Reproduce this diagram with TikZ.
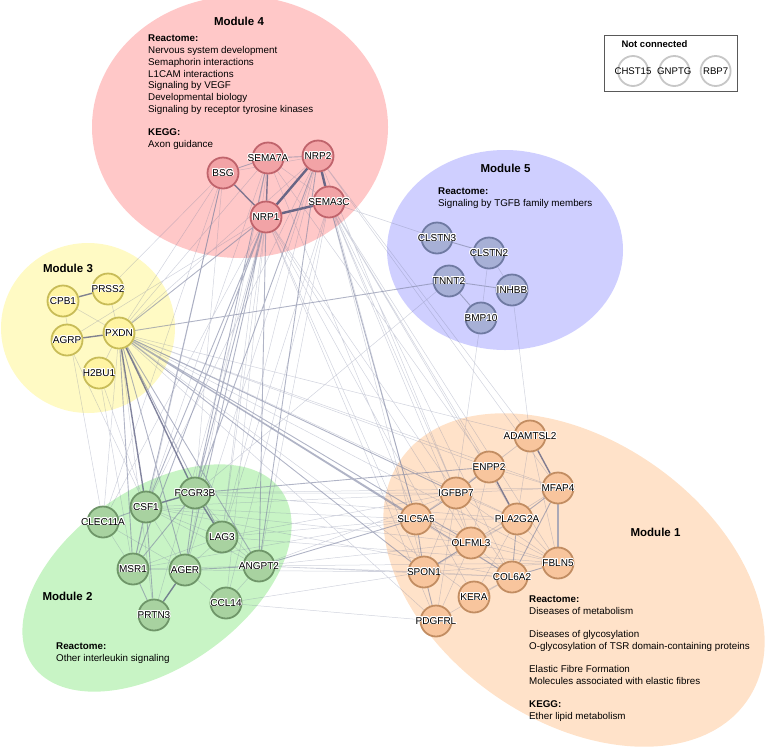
\documentclass[tikz,border=0pt]{standalone}
\usepackage{fontspec}
\setmainfont{Liberation Sans}
\usepackage{contour}
\contourlength{0.8pt}
\usetikzlibrary{positioning}

\definecolor{edgec}{HTML}{7C82A0}
\definecolor{edgedk}{HTML}{585B7E}
\definecolor{m1bg}{HTML}{FFE2C9}\definecolor{m1n}{HTML}{F8C59D}\definecolor{m1d}{HTML}{C28D62}
\definecolor{m2bg}{HTML}{C8F4C5}\definecolor{m2n}{HTML}{A8D2A0}\definecolor{m2d}{HTML}{6F9669}
\definecolor{m3bg}{HTML}{FFFAC4}\definecolor{m3n}{HTML}{FFF4A3}\definecolor{m3d}{HTML}{C8BC58}
\definecolor{m4bg}{HTML}{FFC8C8}\definecolor{m4n}{HTML}{F2A3A6}\definecolor{m4d}{HTML}{C0646C}
\definecolor{m5bg}{HTML}{CFCFFF}\definecolor{m5n}{HTML}{A7B0D6}\definecolor{m5d}{HTML}{6F7AA2}

\pgfdeclarelayer{modules}
\pgfdeclarelayer{edges}
\pgfsetlayers{modules,edges,main}

\newcommand{\halo}[1]{\contour{white}{#1}}

\begin{document}
\begin{tikzpicture}[x=1pt,y=-1pt,
      gene/.style={circle,minimum size=31pt,inner sep=0pt,line width=1.8pt},
      lbl/.style={font=\fontsize{10}{11}\selectfont,inner sep=0pt},
      m1/.style={gene,fill=m1n,draw=m1d},
      m2/.style={gene,fill=m2n,draw=m2d},
      m3/.style={gene,fill=m3n,draw=m3d},
      m4/.style={gene,fill=m4n,draw=m4d},
      m5/.style={gene,fill=m5n,draw=m5d},
      lone/.style={gene,minimum size=30pt,fill=white,draw=black!22},
      title/.style={font=\fontsize{11.5}{13}\selectfont\bfseries,inner sep=0pt,anchor=base},
      info/.style={font=\fontsize{9.8}{11.7}\selectfont,align=left,
                   anchor=north west,inner sep=0pt},
      wlight/.style={edgec,line width=0.5pt,opacity=0.35},
      wmid/.style={edgec,line width=0.9pt,opacity=0.6},
      wstrong/.style={edgedk,line width=1.4pt,opacity=0.75},
      wheavy/.style={edgedk,line width=2.4pt,opacity=0.9},
    ]
    \useasboundingbox (0,0) rectangle (767,750);

    % module areas
    \begin{pgfonlayer}{modules}
      \fill[m4bg] (240,127) ellipse[x radius=148,y radius=131];
      \fill[m5bg] (505,250) ellipse[x radius=118,y radius=100];
      \fill[m3bg] (88,328) ellipse[x radius=87,y radius=85];
      \fill[m2bg,rotate around={35:(157,578)}] (157,578)
        ellipse[x radius=152,y radius=89];
      \fill[m1bg,rotate around={-35:(574,580)}] (574,580)
        ellipse[x radius=211,y radius=140];
    \end{pgfonlayer}

    % Module 4
    \node[title] (t4) at (239,25) {Module 4};
    \node[info] (i4) at (148,35) {\textbf{Reactome:}\\Nervous system development\\
      Semaphorin interactions\\L1CAM interactions\\Signaling by VEGF\\
      Developmental biology\\Signaling by receptor tyrosine kinases\\[11.7pt]
      \textbf{KEGG:}\\Axon guidance};
    \node[m4,label={[lbl]center:\halo{BSG}}]    (BSG)    at (223,173) {};
    \node[m4,label={[lbl]center:\halo{SEMA7A}}] (SEMA7A) at (268,158) {};
    \node[m4,label={[lbl]center:\halo{NRP2}}]   (NRP2)   at (318,156) {};
    \node[m4,label={[lbl]center:\halo{SEMA3C}}] (SEMA3C) at (329,202) {};
    \node[m4,label={[lbl]center:\halo{NRP1}}]   (NRP1)   at (266,217) {};

    % Module 5
    \node[title] (t5) at (505.5,172) {Module 5};
    \node[info] (i5) at (438,187.5) {\textbf{Reactome:}\\Signaling by TGFB family members};
    \node[m5,label={[lbl]center:\halo{CLSTN3}}] (CLSTN3) at (437,238) {};
    \node[m5,label={[lbl]center:\halo{CLSTN2}}] (CLSTN2) at (489,253) {};
    \node[m5,label={[lbl]center:\halo{TNNT2}}]  (TNNT2)  at (449,281) {};
    \node[m5,label={[lbl]center:\halo{INHBB}}]  (INHBB)  at (512,290) {};
    \node[m5,label={[lbl]center:\halo{BMP10}}]  (BMP10)  at (481,318) {};

    % Module 3
    \node[title] (t3) at (68,272) {Module 3};
    \node[m3,label={[lbl]center:\halo{CPB1}}]  (CPB1)  at (63,301) {};
    \node[m3,label={[lbl]center:\halo{PRSS2}}] (PRSS2) at (108,289) {};
    \node[m3,label={[lbl]center:\halo{AGRP}}]  (AGRP)  at (67,340) {};
    \node[m3,label={[lbl]center:\halo{PXDN}}]  (PXDN)  at (119,333) {};
    \node[m3,label={[lbl]center:\halo{H2BU1}}] (H2BU1) at (99,373) {};

    % Module 2
    \node[title] (t2) at (67.5,600) {Module 2};
    \node[info] (i2) at (56,643) {\textbf{Reactome:}\\Other interleukin signaling};
    \node[m2,label={[lbl]center:\halo{CSF1}}]    (CSF1)    at (146,507) {};
    \node[m2,label={[lbl]center:\halo{FCGR3B}}]  (FCGR3B)  at (195,493) {};
    \node[m2,label={[lbl]center:\halo{CLEC11A}}] (CLEC11A) at (103,522) {};
    \node[m2,label={[lbl]center:\halo{LAG3}}]    (LAG3)    at (222,537) {};
    \node[m2,label={[lbl]center:\halo{MSR1}}]    (MSR1)    at (133,569) {};
    \node[m2,label={[lbl]center:\halo{AGER}}]    (AGER)    at (185,570) {};
    \node[m2,label={[lbl]center:\halo{ANGPT2}}]  (ANGPT2)  at (259,566) {};
    \node[m2,label={[lbl]center:\halo{CCL14}}]   (CCL14)   at (226,603) {};
    \node[m2,label={[lbl]center:\halo{PRTN3}}]   (PRTN3)   at (154,615) {};

    % Module 1
    \node[title] (t1) at (655.5,536.7) {Module 1};
    \node[info] (i1) at (529,595.5) {\textbf{Reactome:}\\Diseases of metabolism\\[11.7pt]
      Diseases of glycosylation\\O-glycosylation of TSR domain-containing proteins\\[11.7pt]
      Elastic Fibre Formation\\Molecules associated with elastic fibres\\[11.7pt]
      \textbf{KEGG:}\\Ether lipid metabolism};
    \node[m1,label={[lbl]center:\halo{ADAMTSL2}}] (ADAMTSL2) at (530,436) {};
    \node[m1,label={[lbl]center:\halo{ENPP2}}]    (ENPP2)    at (489,467) {};
    \node[m1,label={[lbl]center:\halo{MFAP4}}]    (MFAP4)    at (558,488) {};
    \node[m1,label={[lbl]center:\halo{IGFBP7}}]   (IGFBP7)   at (456,493) {};
    \node[m1,label={[lbl]center:\halo{SLC5A5}}]   (SLC5A5)   at (416,519) {};
    \node[m1,label={[lbl]center:\halo{PLA2G2A}}]  (PLA2G2A)  at (517,519) {};
    \node[m1,label={[lbl]center:\halo{OLFML3}}]   (OLFML3)   at (471,543) {};
    \node[m1,label={[lbl]center:\halo{FBLN5}}]    (FBLN5)    at (558,563) {};
    \node[m1,label={[lbl]center:\halo{SPON1}}]    (SPON1)    at (424,572) {};
    \node[m1,label={[lbl]center:\halo{COL6A2}}]   (COL6A2)   at (512,577) {};
    \node[m1,label={[lbl]center:\halo{KERA}}]     (KERA)     at (474,597) {};
    \node[m1,label={[lbl]center:\halo{PDGFRL}}]   (PDGFRL)   at (436,621) {};

    % not connected
    \draw[black!65,line width=0.7pt] (604,35) rectangle (737,91);
    \node[font=\fontsize{9.5}{11}\selectfont\bfseries,inner sep=0pt,anchor=base]
      (nc) at (654.5,47.3) {Not connected};
    \node[lone,label={[lbl,font=\fontsize{9.6}{11}\selectfont]center:CHST15}]
      (CHST15) at (633,71) {};
    \node[lone,right=9.5pt of CHST15,
          label={[lbl,font=\fontsize{9.6}{11}\selectfont]center:GNPTG}] (GNPTG) {};
    \node[lone,right=9.5pt of GNPTG,
          label={[lbl,font=\fontsize{9.6}{11}\selectfont]center:RBP7}] (RBP7) {};

    \begin{pgfonlayer}{edges}
      % within modules
      \draw[wheavy] (NRP1) -- (NRP2) (NRP1) -- (SEMA3C) (NRP2) -- (SEMA3C);
      \draw[wstrong] (NRP1) -- (SEMA7A) (NRP1) -- (BSG);
      \draw[wmid] (BSG) -- (SEMA7A) (SEMA7A) -- (NRP2);
      \draw[wlight] (SEMA7A) -- (SEMA3C) (BSG) -- (NRP2);
      \draw[wmid] (CLSTN3) -- (CLSTN2) (TNNT2) -- (INHBB) (TNNT2) -- (BMP10);
      \draw[wlight] (CLSTN2) -- (BMP10) (CLSTN2) -- (INHBB);
      \draw[wstrong] (CPB1) -- (PRSS2) (AGRP) -- (PXDN);
      \draw[wlight] (PXDN) -- (H2BU1) (CPB1) -- (PXDN) (PRSS2) -- (PXDN);
      \draw[wstrong] (CSF1) -- (FCGR3B) (AGER) -- (PRTN3) (FCGR3B) -- (LAG3);
      \draw[wmid] (CSF1) -- (CLEC11A) (CSF1) -- (MSR1) (MSR1) -- (PRTN3)
        (FCGR3B) -- (AGER) (FCGR3B) -- (MSR1) (AGER) -- (ANGPT2) (CSF1) -- (PRTN3);
      \draw[wlight] (CSF1) -- (LAG3) (CSF1) -- (AGER) (CSF1) -- (ANGPT2)
        (MSR1) -- (AGER) (AGER) -- (LAG3) (LAG3) -- (ANGPT2) (CCL14) -- (ANGPT2)
        (CCL14) -- (AGER) (CLEC11A) -- (MSR1) (CLEC11A) -- (AGER)
        (FCGR3B) -- (ANGPT2) (MSR1) -- (ANGPT2) (MSR1) -- (LAG3);
      \draw[edgec!80,line width=2.8pt,opacity=0.8] (MFAP4) -- (FBLN5);
      \draw[wstrong] (ADAMTSL2) -- (MFAP4) (ENPP2) -- (PLA2G2A);
      \draw[wmid] (IGFBP7) -- (SLC5A5) (SPON1) -- (PDGFRL) (SLC5A5) -- (SPON1)
        (OLFML3) -- (SPON1) (COL6A2) -- (FBLN5) (PLA2G2A) -- (COL6A2)
        (MFAP4) -- (COL6A2) (MFAP4) -- (PLA2G2A) (IGFBP7) -- (ENPP2);
      \draw[wlight] (ADAMTSL2) -- (ENPP2) (ADAMTSL2) -- (PLA2G2A)
        (ADAMTSL2) -- (FBLN5) (ADAMTSL2) -- (IGFBP7) (MFAP4) -- (IGFBP7)
        (MFAP4) -- (OLFML3) (MFAP4) -- (ENPP2) (MFAP4) -- (SPON1)
        (IGFBP7) -- (PLA2G2A) (IGFBP7) -- (OLFML3) (IGFBP7) -- (FBLN5)
        (IGFBP7) -- (COL6A2) (IGFBP7) -- (SPON1) (SLC5A5) -- (OLFML3)
        (SLC5A5) -- (COL6A2) (SLC5A5) -- (PLA2G2A) (PLA2G2A) -- (OLFML3)
        (PLA2G2A) -- (FBLN5) (PLA2G2A) -- (SPON1) (PLA2G2A) -- (KERA)
        (OLFML3) -- (COL6A2) (OLFML3) -- (FBLN5) (OLFML3) -- (PDGFRL)
        (SPON1) -- (COL6A2) (SPON1) -- (FBLN5) (COL6A2) -- (KERA)
        (PDGFRL) -- (COL6A2) (PDGFRL) -- (IGFBP7) (ENPP2) -- (OLFML3)
        (ENPP2) -- (SLC5A5) (FBLN5) -- (SLC5A5);

      % between modules
      \draw[wmid] (NRP1) -- (CSF1) (NRP1) -- (FCGR3B) (NRP1) -- (MSR1)
        (NRP1) -- (AGER) (NRP1) -- (ANGPT2) (BSG) -- (CSF1) (SEMA7A) -- (FCGR3B)
        (NRP2) -- (ANGPT2) (NRP2) -- (FCGR3B) (SEMA3C) -- (SLC5A5)
        (PXDN) -- (NRP1) (PXDN) -- (MSR1) (PXDN) -- (AGER) (PXDN) -- (LAG3)
        (PXDN) -- (ANGPT2) (PXDN) -- (IGFBP7) (PXDN) -- (SLC5A5)
        (PXDN) -- (SPON1) (PXDN) -- (OLFML3) (PXDN) -- (COL6A2)
        (FCGR3B) -- (ENPP2) (ANGPT2) -- (SLC5A5) (PXDN) -- (TNNT2);
      \draw[wstrong] (PXDN) -- (CSF1) (PXDN) -- (FCGR3B);
      \draw[wlight] (NRP1) -- (LAG3) (NRP1) -- (PRTN3) (NRP1) -- (CLEC11A)
        (NRP1) -- (CCL14) (BSG) -- (FCGR3B) (BSG) -- (MSR1) (BSG) -- (CLEC11A)
        (SEMA7A) -- (CSF1) (SEMA7A) -- (AGER) (SEMA7A) -- (LAG3)
        (NRP2) -- (LAG3) (NRP2) -- (AGER) (NRP2) -- (CSF1)
        (SEMA3C) -- (ANGPT2) (SEMA3C) -- (LAG3) (SEMA3C) -- (CCL14)
        (SEMA3C) -- (IGFBP7) (SEMA3C) -- (ENPP2) (SEMA3C) -- (SPON1)
        (SEMA3C) -- (OLFML3) (SEMA3C) -- (COL6A2) (SEMA3C) -- (PLA2G2A)
        (SEMA3C) -- (FBLN5) (NRP2) -- (IGFBP7) (NRP2) -- (MFAP4)
        (NRP2) -- (ADAMTSL2) (NRP2) -- (SLC5A5) (NRP1) -- (SPON1)
        (NRP1) -- (IGFBP7) (NRP1) -- (PDGFRL) (NRP1) -- (OLFML3)
        (NRP1) -- (KERA) (SEMA7A) -- (SLC5A5) (SEMA7A) -- (ENPP2)
        (PXDN) -- (BSG) (PRSS2) -- (BSG) (AGRP) -- (NRP1) (PXDN) -- (SEMA7A)
        (PXDN) -- (NRP2) (SEMA3C) -- (CLSTN3)
        (PXDN) -- (CLEC11A) (PXDN) -- (PRTN3) (H2BU1) -- (CSF1)
        (AGRP) -- (CSF1) (CPB1) -- (CLEC11A) (H2BU1) -- (MSR1)
        (PXDN) -- (ENPP2) (PXDN) -- (FBLN5) (PXDN) -- (MFAP4)
        (PXDN) -- (ADAMTSL2) (PXDN) -- (PLA2G2A) (PXDN) -- (KERA)
        (PXDN) -- (PDGFRL) (CSF1) -- (IGFBP7) (CSF1) -- (SLC5A5)
        (FCGR3B) -- (IGFBP7) (FCGR3B) -- (MFAP4) (LAG3) -- (SLC5A5)
        (LAG3) -- (IGFBP7) (ANGPT2) -- (SPON1) (ANGPT2) -- (IGFBP7)
        (ANGPT2) -- (OLFML3) (ANGPT2) -- (COL6A2) (ANGPT2) -- (FBLN5)
        (AGER) -- (SPON1) (CCL14) -- (PDGFRL) (CSF1) -- (OLFML3)
        (CSF1) -- (COL6A2) (MSR1) -- (SLC5A5) (CCL14) -- (SPON1)
        (FCGR3B) -- (PLA2G2A) (LAG3) -- (FBLN5)
        (BMP10) -- (IGFBP7) (INHBB) -- (ADAMTSL2) (TNNT2) -- (FCGR3B);
    \end{pgfonlayer}
  \end{tikzpicture}
\end{document}
